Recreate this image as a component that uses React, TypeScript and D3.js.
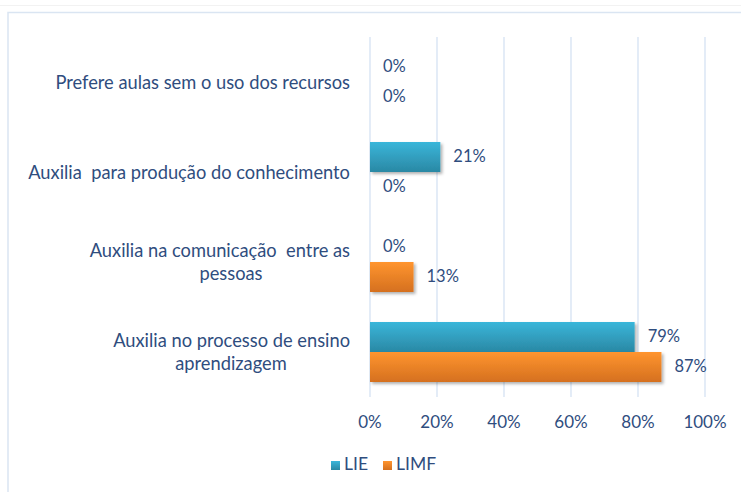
import React from "react";
import { scaleLinear, scaleBand } from "d3";

const categories = [
  ["Prefere aulas sem o uso dos recursos"],
  ["Auxilia  para produção do conhecimento"],
  ["Auxilia na comunicação  entre as", "pessoas"],
  ["Auxilia no processo de ensino", "aprendizagem"],
];
const seriesNames = ["LIE", "LIMF"];
const lieValues = [0, 21, 0, 79];
const limfValues = [0, 0, 13, 87];
const xTicks = [0, 20, 40, 60, 80, 100];

const W = 741;
const H = 492;
const left = 370;
const right = 705;
const top = 37;
const bottom = 397;
const textColor = "#2F4D7E";
const font = "Lato, 'Open Sans', sans-serif";

export default function App() {
  const x = scaleLinear().domain([0, 100]).range([left, right]);
  const y = scaleBand<number>()
    .domain(categories.map((_, i) => i))
    .range([top, bottom])
    .paddingInner(1 / 3)
    .paddingOuter(1 / 6);
  const inner = scaleBand<string>().domain(seriesNames).range([0, y.bandwidth()]);
  const series = [
    { name: "LIE", values: lieValues, grad: "url(#gLie)" },
    { name: "LIMF", values: limfValues, grad: "url(#gLimf)" },
  ];

  return (
    <svg width={W} height={H} style={{ position: "absolute", left: 0, top: 0, background: "#fff" }} fontFamily={font}>
      <defs>
        <linearGradient id="gLie" x1="0" y1="0" x2="0" y2="1">
          <stop offset="0" stopColor="#3AB6DA" />
          <stop offset="1" stopColor="#2A88A4" />
        </linearGradient>
        <linearGradient id="gLimf" x1="0" y1="0" x2="0" y2="1">
          <stop offset="0" stopColor="#FF952F" />
          <stop offset="1" stopColor="#D5701F" />
        </linearGradient>
        <filter id="shadow" x="-10%" y="-30%" width="120%" height="170%">
          <feDropShadow dx="2" dy="2" stdDeviation="1.5" floodColor="#000" floodOpacity="0.3" />
        </filter>
      </defs>
      <line x1={0} x2={W} y1={5.5} y2={5.5} stroke="#F2F2F2" />
      <rect x={8} y={12.5} width={W} height={H} fill="none" stroke="#DAE5F2" strokeWidth={1.5} />

      {xTicks.map((t) => (
        <g key={t}>
          <line x1={x(t)} x2={x(t)} y1={top} y2={bottom} stroke="#D5E2F3" strokeWidth={1.3} />
          <text x={x(t)} y={424} textAnchor="middle" dominantBaseline="middle" fontSize={17} fill={textColor}>
            {t}%
          </text>
        </g>
      ))}

      {categories.map((lines, i) => {
        const cy = (y(i) ?? 0) + y.bandwidth() / 2 + 2;
        const lh = 23.5;
        return (
          <g key={i}>
            {lines.map((ln, j) => (
              <text
                key={j}
                x={j === 0 ? 350 : 231}
                y={cy + (j - (lines.length - 1) / 2) * lh}
                textAnchor={j === 0 ? "end" : "middle"}
                dominantBaseline="middle"
                fontSize={18.3}
                fill={textColor}
                style={{ whiteSpace: "pre" }}
              >
                {ln}
              </text>
            ))}
          </g>
        );
      })}

      {series.map((s) =>
        s.values.map((v, i) => {
          const by = (y(i) ?? 0) + (inner(s.name) ?? 0);
          const bh = inner.bandwidth();
          return (
            <g key={s.name + i}>
              {v > 0 && (
                <rect x={x(0)} y={by} width={x(v) - x(0)} height={bh} fill={s.grad} filter="url(#shadow)" />
              )}
              <text x={x(v) + 13} y={by + bh / 2 + 1} dominantBaseline="middle" fontSize={16.5} fill={textColor}>
                {v}%
              </text>
            </g>
          );
        })
      )}

      {series.map((s, i) => {
        const lx = i === 0 ? 331 : 383;
        return (
          <g key={s.name}>
            <rect x={lx} y={461} width={9} height={9} fill={s.grad} />
            <text x={lx + 13} y={466} dominantBaseline="middle" fontSize={17.5} fill={textColor}>
              {s.name}
            </text>
          </g>
        );
      })}
    </svg>
  );
}
